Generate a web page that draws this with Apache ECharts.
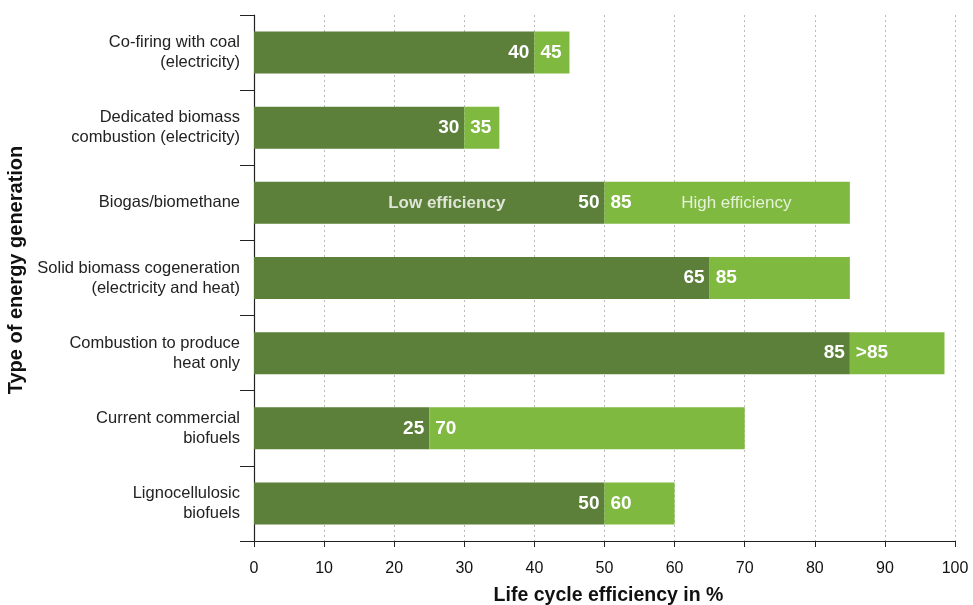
<!DOCTYPE html>
<html>
<head>
<meta charset="utf-8">
<script src="https://cdn.jsdelivr.net/npm/echarts@6/dist/echarts.min.js"></script>
<style>html,body{margin:0;padding:0;background:#fff}#c{width:973px;height:605px}</style>
</head>
<body>
<div id="c"></div>
<script>
var categories = [
  "Co-firing with coal\n(electricity)",
  "Dedicated biomass\ncombustion (electricity)",
  "Biogas/biomethane",
  "Solid biomass cogeneration\n(electricity and heat)",
  "Combustion to produce\nheat only",
  "Current commercial\nbiofuels",
  "Lignocellulosic\nbiofuels"
];
var lowEff = [40, 30, 50, 65, 85, 25, 50];
var highEff = [45, 35, 85, 85, 98.5, 70, 60];
var lowLabels = ["40", "30", "50", "65", "85", "25", "50"];
var highLabels = ["45", "35", "85", "85", ">85", "70", "60"];
var xTicks = [0, 10, 20, 30, 40, 50, 60, 70, 80, 90, 100];
var annotations = [
  {text: "Low efficiency", x: 27.5, cat: 2, bold: true},
  {text: "High efficiency", x: 68.8, cat: 2, bold: false}
];

var FONT = "Liberation Sans, Arial, Helvetica, sans-serif";
var DARK = "#5c7f39";
var LIGHT = "#7fb940";

var chart = echarts.init(document.getElementById('c'), null, {renderer: 'canvas'});
chart.setOption({
  animation: false,
  textStyle: {fontFamily: FONT},
  grid: {left: 254, right: 18, top: 15, bottom: 64, containLabel: false, outerBoundsMode: 'none'},
  xAxis: {
    type: 'value', min: xTicks[0], max: xTicks[xTicks.length - 1], interval: 10,
    name: 'Life cycle efficiency in %', nameLocation: 'middle', nameGap: 45,
    nameTextStyle: {fontFamily: FONT, fontSize: 19.5, fontWeight: 'bold', color: '#111', padding: [0, 0, 0, 8]},
    axisLine: {show: true, lineStyle: {color: '#222', width: 1.2}},
    axisTick: {show: true, length: 6, lineStyle: {color: '#222'}},
    axisLabel: {fontFamily: FONT, fontSize: 16, color: '#111', margin: 20},
    splitLine: {show: true, lineStyle: {color: '#bbb', type: [2, 3], width: 1}}
  },
  yAxis: {
    type: 'category', data: categories, inverse: true,
    name: 'Type of energy generation', nameLocation: 'middle', nameGap: 226, nameRotate: 90,
    nameTextStyle: {fontFamily: FONT, fontSize: 20, fontWeight: 'bold', color: '#111', padding: [0, 0, 0, 16]},
    axisLine: {show: true, lineStyle: {color: '#222', width: 1.2}},
    axisTick: {show: true, length: 14, lineStyle: {color: '#222'}},
    axisLabel: {fontFamily: FONT, fontSize: 16.5, color: '#222', margin: 14, lineHeight: 20, align: 'right'}
  },
  series: [
    {
      type: 'bar', stack: 'eff', barWidth: 42, data: lowEff,
      itemStyle: {color: DARK},
      label: {
        show: true, position: 'insideRight', distance: 5,
        fontFamily: FONT, fontSize: 19, fontWeight: 'bold', color: '#fff',
        formatter: function (p) { return lowLabels[p.dataIndex]; }
      }
    },
    {
      type: 'bar', stack: 'eff', barWidth: 42,
      data: highEff.map(function (h, i) { return +(h - lowEff[i]).toFixed(2); }),
      itemStyle: {color: LIGHT},
      label: {
        show: true, position: 'insideLeft', distance: 6,
        fontFamily: FONT, fontSize: 19, fontWeight: 'bold', color: '#fff',
        formatter: function (p) { return highLabels[p.dataIndex]; }
      }
    },
    {
      type: 'scatter', symbolSize: 0, silent: true, z: 5,
      data: annotations.map(function (a) {
        return {
          value: [a.x, a.cat],
          label: {show: true, position: 'inside', formatter: a.text,
            fontFamily: FONT, fontSize: 17, fontWeight: a.bold ? 'bold' : 'normal', color: '#fff'}
        };
      })
    }
  ]
});
</script>
</body>
</html>
